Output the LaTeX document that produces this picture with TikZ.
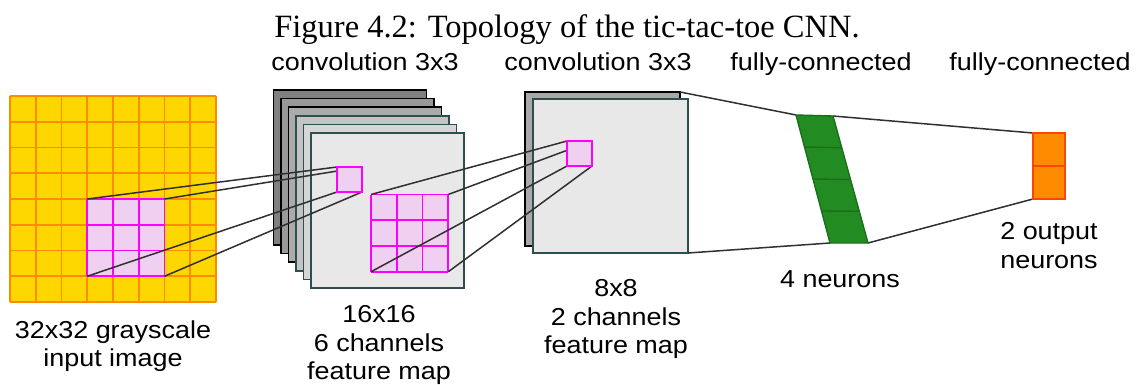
\documentclass[tikz,border=0pt]{standalone}
\usepackage{fontspec}
\setmainfont{Liberation Serif}
\newfontfamily\labelfont[FakeStretch=1.1]{Liberation Sans}
\usetikzlibrary{calc}

\definecolor{gold}{HTML}{FFD700}
\definecolor{gridorange}{HTML}{FF8C00}
\definecolor{patchpink}{HTML}{F0D0F0}
\definecolor{mag}{HTML}{FF00FF}
\definecolor{slate}{HTML}{2F4F4F}
\definecolor{fcgreen}{HTML}{228B22}
\definecolor{fcedge}{HTML}{1B6F1B}
\definecolor{outorange}{HTML}{FF8C00}
\definecolor{outedge}{HTML}{FF4500}
\definecolor{linkgray}{HTML}{303030}

\pgfdeclarelayer{bg}
\pgfdeclarelayer{mid}
\pgfsetlayers{bg,mid,main}

\tikzset{
  box/.style={rectangle, inner sep=0pt, outer sep=0pt, anchor=north west},
  sheet/.style={box, line width=1.6pt, minimum width=153pt, minimum height=155pt},
  mapsheet/.style={box, line width=1.6pt, minimum width=155pt, minimum height=154pt},
  gridline/.style={draw=gridorange, line width=1.8pt},
  patchline/.style={draw=mag, line width=1.6pt},
  cellbox/.style={box, fill=patchpink, draw=mag, line width=1.6pt, minimum size=25pt},
  link/.style={draw=linkgray, line width=1.5pt},
  lbl/.style={font=\labelfont\fontsize{24.5}{28.5}\selectfont, align=center, anchor=north, inner sep=0pt},
}

\begin{document}
\begin{tikzpicture}[x=1pt,y=-1pt]
\useasboundingbox (0,0) rectangle (1139,385);

\node[font=\fontsize{32.5}{37}\selectfont, anchor=base, inner sep=0pt] (cap) at (567,38)
  {Figure 4.2: Topology of the tic-tac-toe CNN.};

\begin{pgfonlayer}{bg}
  % 32x32 input image
  \node[box, fill=gold, minimum size=206pt] (img) at (10,96) {};
  \begin{scope}[shift={(10,96)}]
    \foreach \k in {0,...,8} {
      \draw[gridline] (\k*25.75,0) -- (\k*25.75,206);
      \draw[gridline] (0,\k*25.75) -- (206,\k*25.75);
    }
  \end{scope}
  % 3x3 receptive field on the input
  \node[box, fill=patchpink, minimum size=77.25pt] (p1) at (87.25,199) {};
  \begin{scope}[shift={(87.25,199)}]
    \foreach \k in {0,...,3} {
      \draw[patchline] (\k*25.75,0) -- (\k*25.75,77.25);
      \draw[patchline] (0,\k*25.75) -- (77.25,\k*25.75);
    }
  \end{scope}

  % six 16x16 feature maps
  \foreach \i/\f/\e in {0/808080/black, 1/999999/black, 2/ABABAB/black,
                        3/C4C4C4/slate, 4/D6D6D6/slate, 5/E8E8E8/slate} {
    \definecolor{sheetfill}{HTML}{\f}
    \pgfmathtruncatemacro{\n}{\i+1}
    \node[sheet, fill=sheetfill, draw=\e] (l\n) at (273.3+7.5*\i, 90+8.6*\i) {};
  }
  % 3x3 receptive field on the front feature map
  \node[box, fill=patchpink, minimum size=77.25pt] (p2) at (371,194.5) {};
  \begin{scope}[shift={(371,194.5)}]
    \foreach \k in {0,...,3} {
      \draw[patchline] (\k*25.75,0) -- (\k*25.75,77.25);
      \draw[patchline] (0,\k*25.75) -- (77.25,\k*25.75);
    }
  \end{scope}

  % two 8x8 feature maps
  \node[mapsheet, fill={rgb,255:red,169;green,169;blue,169}, draw=black] (m1) at (525,92) {};
  \node[mapsheet, fill={rgb,255:red,232;green,232;blue,232}, draw=slate] (m2) at (533,99) {};
\end{pgfonlayer}

% single output cells of the convolutions
\node[cellbox] (s1) at (337,167) {};
\node[cellbox] (s2) at (567,141) {};

% fully-connected layer of 4 neurons
\coordinate (g1) at (796,115);
\coordinate (g2) at (833,116);
\coordinate (g3) at (868,243);
\coordinate (g4) at (830,243);
\fill[fcgreen] (g1) -- (g2) -- (g3) -- (g4) -- cycle;
\foreach \t in {0.25,0.5,0.75}
  \draw[fcedge, line width=1.4pt] ($(g1)!\t!(g4)$) -- ($(g2)!\t!(g3)$);
\draw[fcedge, line width=1.4pt] (g1) -- (g2) -- (g3) -- (g4) -- cycle;

% output layer of 2 neurons
\node[box, fill=outorange, draw=outedge, line width=1.6pt,
      minimum width=32pt, minimum height=66pt] (out) at (1033,133) {};
\draw[outedge, line width=1.6pt] (out.west) -- (out.east);

% connections
\begin{pgfonlayer}{mid}
  \draw[link] (p1.north west) -- (s1.north west);
  \draw[link] (p1.north east) -- (s1.north east);
  \draw[link] (p1.south west) -- (s1.south west);
  \draw[link] (p1.south east) -- (s1.south east);
  \draw[link] (p2.north west) -- (s2.north west);
  \draw[link] (p2.north east) -- (s2.north east);
  \draw[link] (p2.south west) -- (s2.south west);
  \draw[link] (p2.south east) -- (s2.south east);
  \draw[link] (m1.north east) -- (g1);
  \draw[link] (m2.south east) -- (g4);
  \draw[link] (g2) -- (out.north west);
  \draw[link] (g3) -- (out.south west);
\end{pgfonlayer}

% layer titles
\node[lbl] (t1) at (365,52.5) {convolution 3x3};
\node[lbl] (t2) at (598,52.5) {convolution 3x3};
\node[lbl] (t3) at (821,52.5) {fully-connected};
\node[lbl] (t4) at (1040,52.5) {fully-connected};

% layer descriptions
\node[lbl] (d1) at (113,320.4) {32x32 grayscale\\input image};
\node[lbl] (d2) at (379,305.4) {16x16\\6 channels\\feature map};
\node[lbl] (d3) at (616,279.4) {8x8\\2 channels\\feature map};
\node[lbl] (d4) at (840,270.4) {4 neurons};
\node[lbl] (d5) at (1049,222.4) {2 output\\neurons};
\end{tikzpicture}
\end{document}
